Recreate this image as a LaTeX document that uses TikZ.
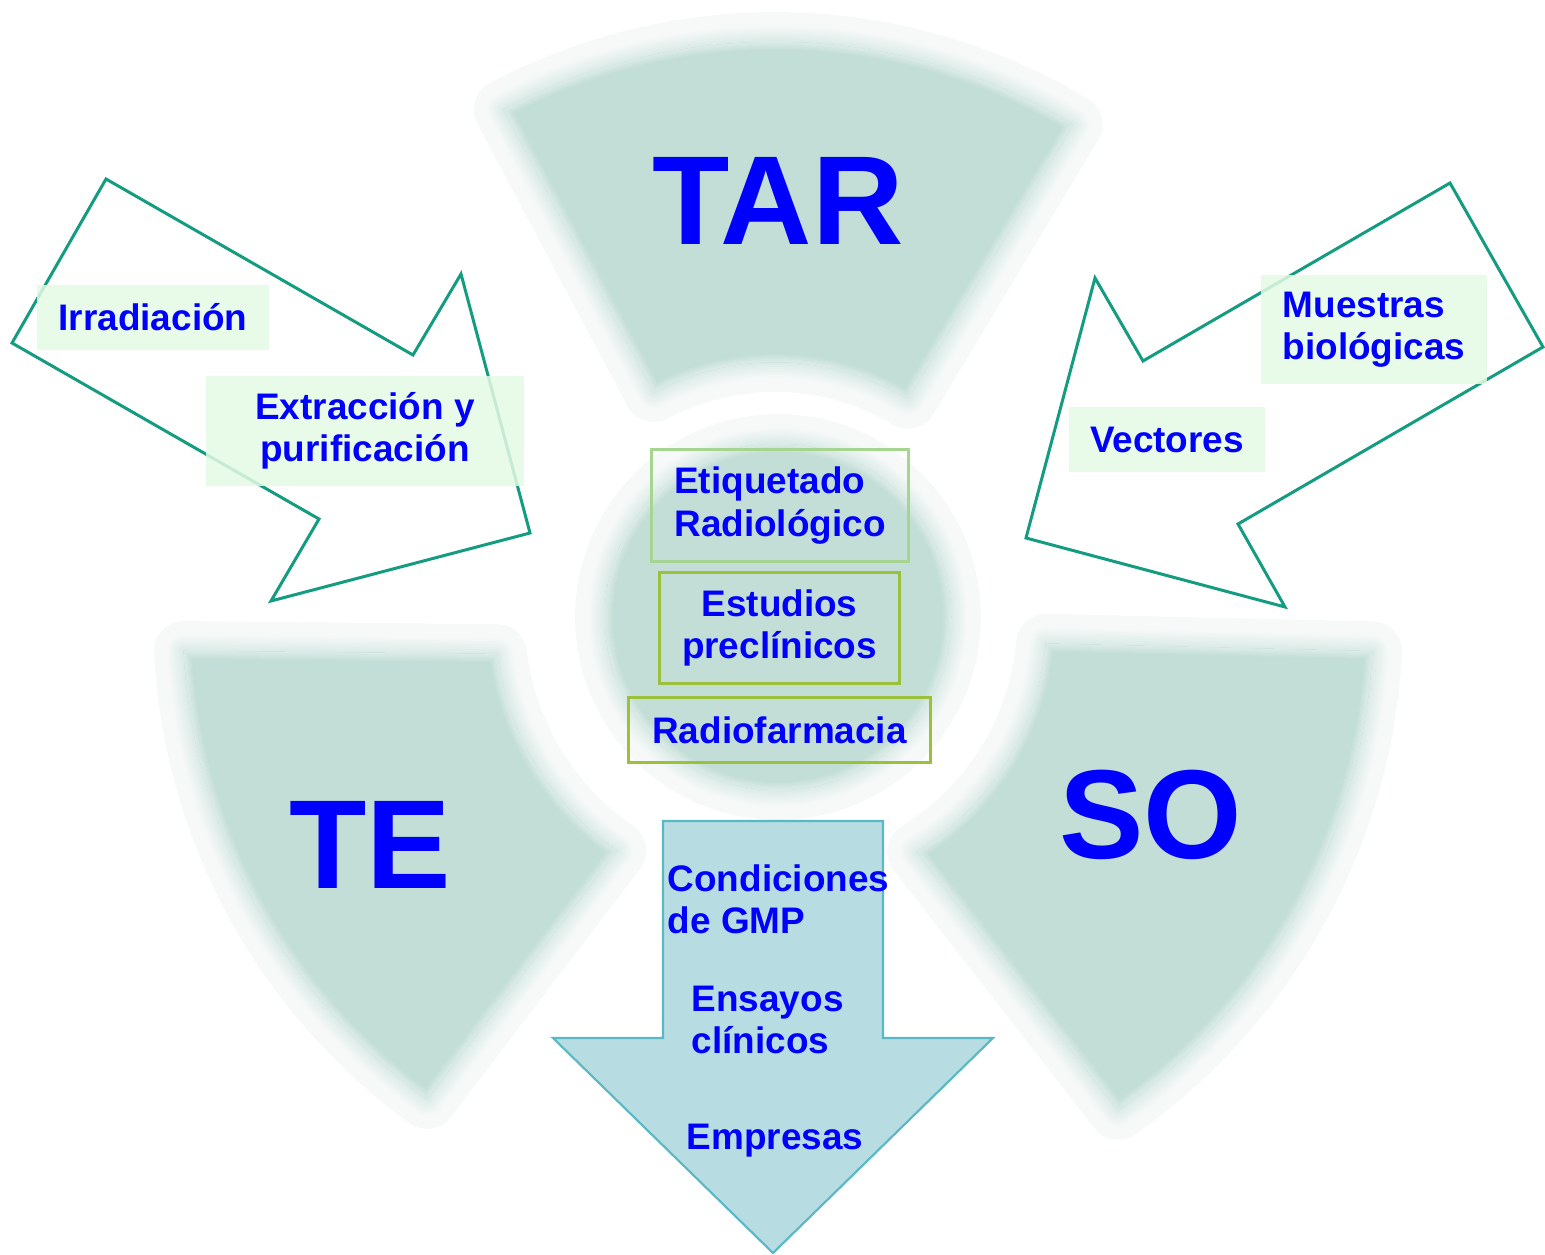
\documentclass[tikz,border=0pt]{standalone}
\usepackage{fontspec}
\setmainfont{Liberation Sans}
\definecolor{leaf}{RGB}{194,222,214}
\definecolor{haze}{RGB}{247,249,249}
\definecolor{rim}{RGB}{20,156,128}
\definecolor{mint}{RGB}{228,249,228}
\definecolor{sky}{RGB}{183,220,226}
\definecolor{skyline}{RGB}{88,184,196}
\definecolor{sage}{RGB}{165,213,145}
\definecolor{moss}{RGB}{155,193,60}
\newcommand\softblob[1]{%
  \draw[haze, line width=17pt, line join=round] #1;
  \foreach \k in {1,...,10}{%
    \pgfmathtruncatemacro\mix{\k*5}%
    \pgfmathsetmacro\lw{(11-\k)*0.91}%
    \draw[draw=leaf!\mix!haze, line width=\lw pt, line join=round] #1;
  }
  \fill[leaf] #1;
  \begin{scope}
    \clip #1;
    \foreach \k in {1,...,8}{%
      \pgfmathtruncatemacro\mix{100-\k*6}%
      \pgfmathsetmacro\lw{(9-\k)*0.57}%
      \draw[draw=leaf!\mix!haze, line width=\lw pt, line join=round] #1;
    }
  \end{scope}
}

\begin{document}
\begin{tikzpicture}[x=0.01cm,y=0.01cm]
\tikzstyle{every node}=[font=\fontsize{10.5}{12}\selectfont\bfseries, text=blue, inner sep=0pt]
\tikzstyle{bigword}=[font=\fontsize{36}{40}\selectfont\bfseries]
\tikzstyle{hollowarrow}=[draw=rim, line width=0.85pt, line join=miter]
\tikzstyle{tagbox}=[fill=mint, fill opacity=0.85, text opacity=1]
\tikzstyle{ringbox}=[draw, line width=0.85pt]
\useasboundingbox (0,0) rectangle (1545,1254);
\begin{scope}[shift={(775,634)}]
\softblob{(59:578) arc[start angle=59, end angle=118, radius=578] -- (118:258) arc[start angle=118, end angle=59, radius=258] -- cycle}
\softblob{(183:592) arc[start angle=183, end angle=234, radius=592] -- (235.5:280) arc[start angle=235.5, end angle=187, radius=280] -- cycle}
\softblob{(-55:598) arc[start angle=-55, end angle=-3, radius=598] -- (-5:272) arc[start angle=-5, end angle=-58.5, radius=272] -- cycle}
\softblob{(3,3) circle[radius=173]}
\end{scope}
\draw[hollowarrow] (106,1075) -- (413,899) -- (461,980) -- (530,721) -- (271,653) -- (319,735) -- (12,911) -- cycle;
\draw[hollowarrow] (1450,1071) -- (1543,907) -- (1238,730) -- (1285,647) -- (1026,716) -- (1095,976) -- (1143,893) -- cycle;
\node[tagbox, minimum width=2.32cm, minimum height=0.65cm] (irrad) at (153,936.5) {Irradiación};
\node[tagbox, minimum width=3.18cm, minimum height=1.10cm, align=center] (extrac) at (365,823) {Extracción y\\purificación};
\node[tagbox, minimum width=2.26cm, minimum height=1.09cm, align=left] (muestras) at (1374,924.5) {Muestras\\biológicas};
\node[tagbox, minimum width=1.96cm, minimum height=0.65cm] (vectores) at (1167,814.5) {Vectores};
\node[ringbox, draw=sage, minimum width=2.56cm, minimum height=1.11cm, align=left] (etiq) at (780,748.5) {Etiquetado\\Radiológico};
\node[ringbox, draw=moss, minimum width=2.39cm, minimum height=1.10cm, align=center] (estud) at (779.5,626) {Estudios\\preclínicos};
\node[ringbox, draw=moss, minimum width=3.01cm, minimum height=0.64cm] (radiof) at (779.5,524) {Radiofarmacia};
\draw[fill=sky, draw=skyline, line width=0.6pt] (663,433) -- (883,433) -- (883,216) -- (993,216) -- (773,1) -- (553,216) -- (663,216) -- cycle;
\node[anchor=west, align=left] (gmp) at (667,354.5) {Condiciones\\de GMP};
\node[anchor=west, align=left] (ensayos) at (691,234) {Ensayos\\clínicos};
\node[anchor=base west] (empresas) at (686,104) {Empresas};
\node[bigword] (tar) at (778,1053) {TAR};
\node[bigword] (te) at (370,409) {TE};
\node[bigword] (so) at (1151,439) {SO};
\end{tikzpicture}
\end{document}
